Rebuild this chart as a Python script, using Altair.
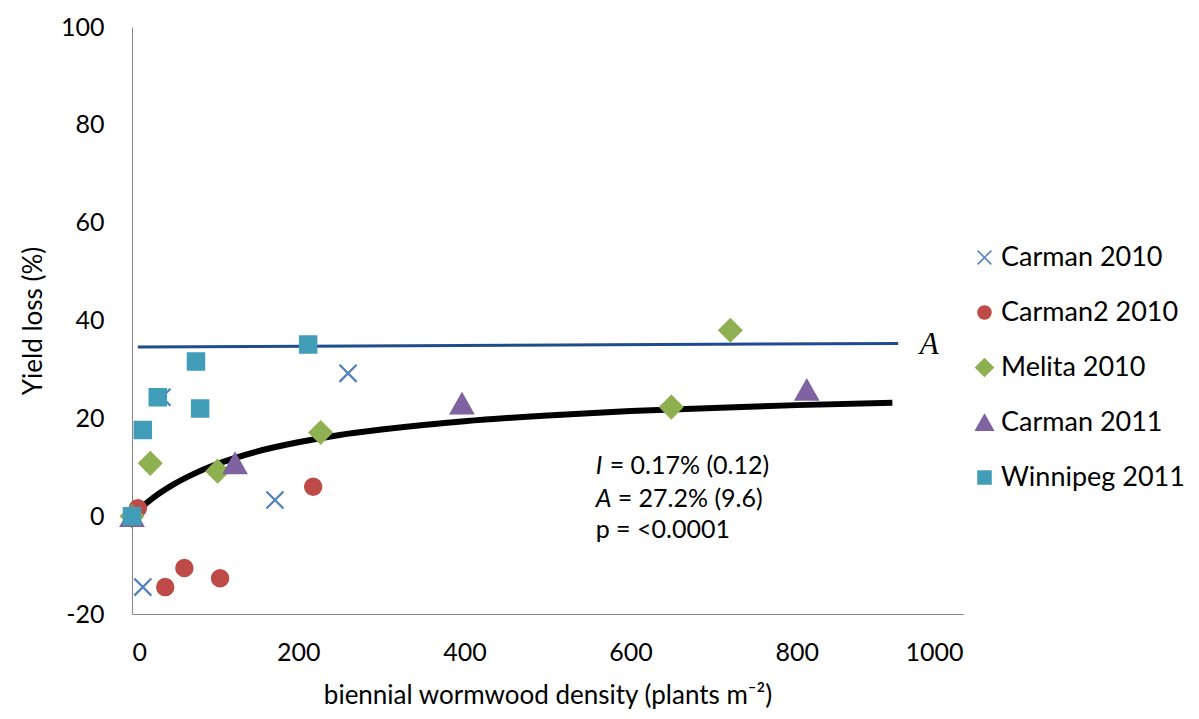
import altair as alt
import pandas as pd

FONT = "Lato"

# ---------------- data ----------------
series_names = ["Carman 2010", "Carman2 2010", "Melita 2010", "Carman 2011", "Winnipeg 2011"]
series_colors = ["#4f81bd", "#be4b48", "#8fb050", "#7f63a1", "#429db8"]
series_shapes = [
    "M-1.05,-1.05L1.05,1.05M1.05,-1.05L-1.05,1.05",
    "circle",
    "M0,-1.35L1.35,0L0,1.35L-1.35,0Z",
    "M0,-1.2L1.35,1.2L-1.35,1.2Z",
    "square",
]

carman2010_x = [0, 13, 36, 172, 260]
carman2010_y = [0, -14.5, 24.3, 3.3, 29.2]

carman2_2010_x = [7, 40, 63, 106, 218]
carman2_2010_y = [1.6, -14.5, -10.6, -12.7, 6.0]

melita2010_x = [0, 22, 103, 227, 649, 720]
melita2010_y = [0, 10.8, 9.2, 17.1, 22.3, 38.0]

carman2011_x = [0, 124, 397, 812]
carman2011_y = [0, 10.8, 23.0, 25.8]

winnipeg2011_x = [0, 13, 31, 77, 82, 212]
winnipeg2011_y = [0, 17.6, 24.3, 31.6, 22.0, 35.1]

# fitted curve
curve_x = [5, 10, 25, 50, 75, 100, 150, 200, 250, 300, 400, 500, 600, 700, 800, 915]
curve_y = [0.8, 1.6, 3.7, 6.5, 8.7, 10.5, 13.2, 15.1, 16.6, 17.7, 19.4, 20.6, 21.5, 22.1, 22.7, 23.2]

# asymptote line A
asym_x = [7, 922]
asym_y = [34.6, 35.3]

x_ticks = [0, 200, 400, 600, 800, 1000]
y_ticks = [-20, 0, 20, 40, 60, 80, 100]

# ---------------- tables ----------------
rows = []
for name, xs, ys in zip(
    series_names,
    [carman2010_x, carman2_2010_x, melita2010_x, carman2011_x, winnipeg2011_x],
    [carman2010_y, carman2_2010_y, melita2010_y, carman2011_y, winnipeg2011_y],
):
    for xv, yv in zip(xs, ys):
        rows.append({"series": name, "density": xv, "loss": yv})
pts = pd.DataFrame(rows)
curve = pd.DataFrame({"density": curve_x, "loss": curve_y})
asym = pd.DataFrame({"density": asym_x, "loss": asym_y})

xscale = alt.Scale(domain=[0, 1000], nice=False, zero=False)
yscale = alt.Scale(domain=[-20, 100], nice=False, zero=False)

x_axis = alt.Axis(
    values=x_ticks, ticks=False, grid=False, domainColor="#868686", domainWidth=1,
    labelExpr="'' + datum.value",
    labelFont=FONT, labelFontSize=25, labelColor="black", labelPadding=26,
    title="biennial wormwood density (plants m⁻²)", titleFont=FONT, titleFontSize=26,
    titleFontWeight="normal", titleColor="black", titlePadding=17,
)
y_axis = alt.Axis(
    values=y_ticks, ticks=False, grid=False, domainColor="#868686", domainWidth=1,
    labelExpr="'' + datum.value",
    labelFont=FONT, labelFontSize=25, labelColor="black", labelPadding=28,
    title="Yield loss (%)", titleFont=FONT, titleFontSize=26,
    titleFontWeight="normal", titleColor="black", titlePadding=14,
)

X = alt.X("density:Q", scale=xscale, axis=x_axis)
Y = alt.Y("loss:Q", scale=yscale, axis=y_axis)

asym_line = alt.Chart(asym).mark_line(color="#1f4d8c", strokeWidth=3).encode(x=X, y=Y)
curve_line = alt.Chart(curve).mark_line(color="black", strokeWidth=6, interpolate="monotone").encode(x=X, y=Y)

legend = alt.Legend(
    title=None, orient="none", legendX=839, legendY=217, padding=0,
    labelFont=FONT, labelFontSize=27, labelColor="black", labelOffset=3, labelLimit=0,
    symbolSize=170, symbolStrokeWidth=1.5, rowPadding=27,
)
sdom = alt.Scale(domain=series_names, range=series_colors)
points = alt.Chart(pts).mark_point(opacity=1, fillOpacity=1, strokeWidth=2.2, size=265).encode(
    x=X,
    y=Y,
    fill=alt.Fill("series:N", scale=sdom, legend=legend),
    stroke=alt.Stroke("series:N", scale=sdom, legend=legend),
    shape=alt.Shape("series:N", scale=alt.Scale(domain=series_names, range=series_shapes), legend=legend),
    order=alt.Order("idx:Q"),
).transform_window(idx="row_number()")

# annotations
ann_x = [558, 558, 558]
ann_y = [10.2, 3.5, -2.9]
ann_italic = ["I", "A", ""]
ann_rest = ["= 0.17% (0.12)", "= 27.2% (9.6)", "p = <0.0001"]
ann_dx = [14, 22, 0]
ann = pd.DataFrame({"density": ann_x, "loss": ann_y, "it": ann_italic, "rest": ann_rest})

ann_it = alt.Chart(ann).mark_text(
    align="left", baseline="middle", font=FONT, fontSize=25, fontStyle="italic", color="black"
).encode(x=X, y=Y, text="it:N")
ann_parts = []
for i in range(len(ann_rest)):
    ann_parts.append(
        alt.Chart(ann.iloc[[i]]).mark_text(
            align="left", baseline="middle", font=FONT, fontSize=25, color="black", dx=ann_dx[i]
        ).encode(x=X, y=Y, text="rest:N")
    )

a_label = pd.DataFrame({"density": [948], "loss": [35.0], "t": ["A"]})
a_text = alt.Chart(a_label).mark_text(
    align="left", baseline="middle", font="Liberation Serif", fontSize=31, fontStyle="italic", color="black"
).encode(x=X, y=Y, text="t:N")

chart = alt.layer(asym_line, curve_line, points, ann_it, *ann_parts, a_text).properties(
    width=831, height=587,
    autosize=alt.AutoSizeParams(type="none"),
    padding={"left": 132, "top": 27, "right": 236, "bottom": 105},
    background="white",
).configure_view(stroke=None)

chart.save("out.html", embed_options={"renderer": "svg", "actions": False})
